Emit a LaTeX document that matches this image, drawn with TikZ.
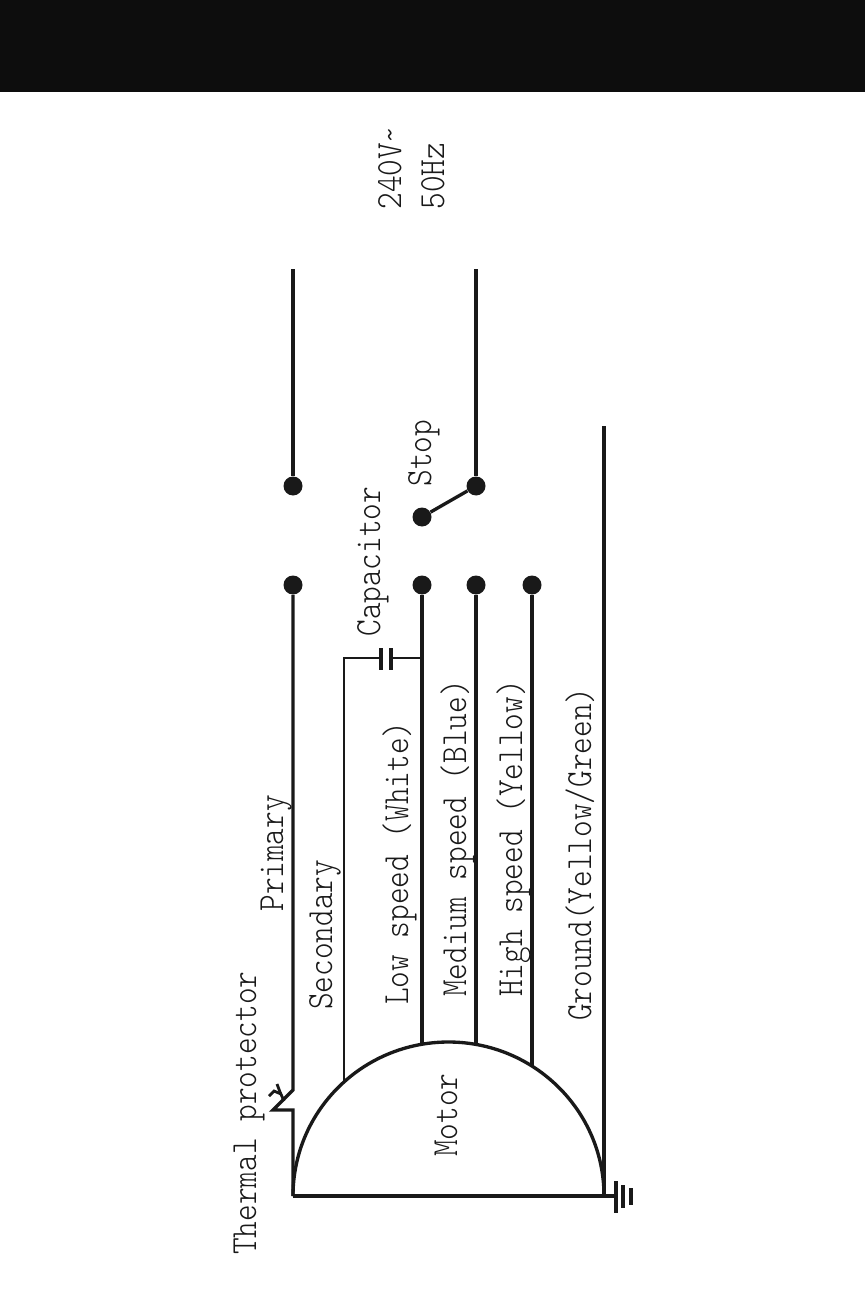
\documentclass[tikz,border=0pt]{standalone}
\usepackage{fontspec}
\setmonofont[FakeStretch=0.86]{Latin Modern Mono Light}
\tikzset{
wire/.style={black!90, line width=1.9pt},
thinwire/.style={black!90, line width=1.6pt},
terminal/.style={circle, fill=black!90, inner sep=0pt, minimum size=0.38cm},
label/.style={rotate=90, anchor=base west, inner sep=0pt, text=black!90, font=\ttfamily\fontsize{21}{21}\selectfont}
}
\begin{document}
\begin{tikzpicture}[x=0.02cm,y=-0.02cm]
\useasboundingbox (0,0) rectangle (865,1297);
\fill[black!95] (0,0) rectangle (865,92);
% terminals
\node[terminal] (primaryend) at (293,585) {};
\node[terminal] (linea) at (293,486) {};
\node[terminal] (lineb) at (476,486) {};
\node[terminal] (stopend) at (422,517) {};
\node[terminal] (lowend) at (422,585) {};
\node[terminal] (medend) at (476,585) {};
\node[terminal] (highend) at (532,585) {};
% points on the wires
\coordinate (linetopa) at (293,269);
\coordinate (linetopb) at (476,269);
\coordinate (groundtop) at (604,426);
\coordinate (motorleft) at (293,1196);
\coordinate (motorright) at (604,1196);
\coordinate (earth) at (616,1196);
\coordinate (protA) at (293,1090);
\coordinate (protB) at (273,1110);
\coordinate (protC) at (293,1110);
\coordinate (secmotor) at (344,1082);
\coordinate (seccorner) at (344,658);
\coordinate (capA) at (381,658);
\coordinate (capB) at (391,658);
\coordinate (lowjoin) at (422,658);
\coordinate (lowmotor) at (422,1044);
\coordinate (medmotor) at (476,1044);
\coordinate (highmotor) at (532,1065);
% motor
\draw[wire] (motorleft) arc (180:360:155.5 and 154);
\draw[wire] (motorleft) -- (earth);
\draw[wire, line join=miter] (primaryend) -- (protA) -- (protB) -- (protC) -- (motorleft);
\draw[wire] (linea) -- (linetopa);
\draw[wire] (lineb) -- (linetopb);
\draw[wire] (lineb) -- (stopend);
\draw[thinwire] (secmotor) -- (seccorner) -- (capA);
\draw[thinwire] (capB) -- (lowjoin);
\draw[wire, line width=2.4pt] (381,648) -- (381,670);
\draw[wire, line width=2.4pt] (391,648) -- (391,670);
\draw[wire] (lowend) -- (lowmotor);
\draw[wire] (medend) -- (medmotor);
\draw[wire] (highend) -- (highmotor);
\draw[wire] (groundtop) -- (motorright);
% earth symbol
\draw[wire] (616,1181) -- (616,1213);
\draw[wire] (623,1185) -- (623,1208);
\draw[wire] (631,1188) -- (631,1205);
% bimetal mark
\draw[thinwire] (284,1101) -- (280,1092) -- (277,1084);
\draw[thinwire] (269,1096) -- (274,1091) -- (281,1094);
% labels
\node[label] (thermal) at (256,1255) {Thermal protector};
\node[label] (primary) at (283,912) {Primary};
\node[label] (secondary) at (332,1010) {Secondary};
\node[label] (low) at (408,1005) {Low speed (White)};
\node[label] (medium) at (466,997) {Medium speed (Blue)};
\node[label] (high) at (522,997) {High speed (Yellow)};
\node[label] (ground) at (591,1021) {Ground(Yellow/Green)};
\node[label] (motor) at (457,1157) {Motor};
\node[label] (capacitor) at (380,637) {Capacitor};
\node[label] (stop) at (431,487) {Stop};
\node[label] (volt) at (401,210) {240V\char`\~};
\node[label] (hertz) at (444,210) {50Hz};
\end{tikzpicture}
\end{document}
